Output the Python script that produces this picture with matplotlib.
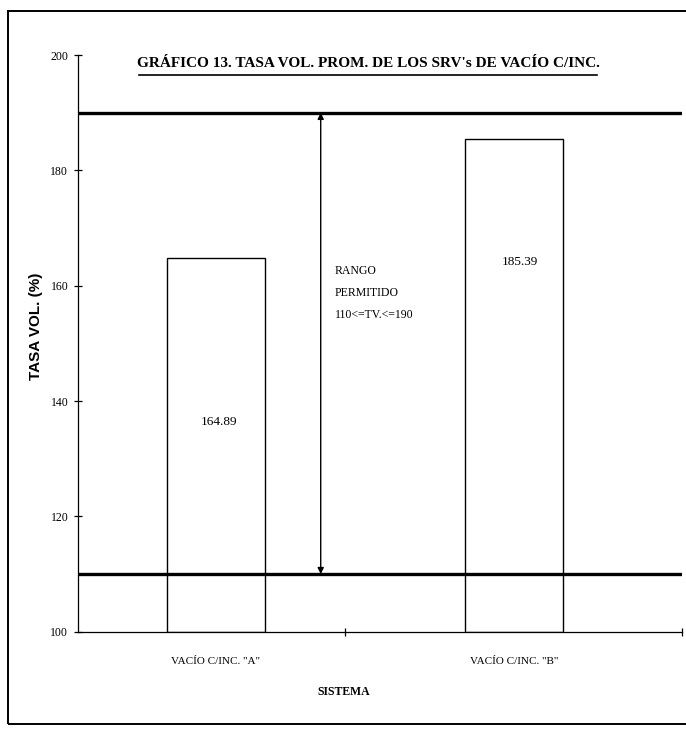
import matplotlib.pyplot as plt
from matplotlib.lines import Line2D
from matplotlib.patches import Rectangle

sistemas = ['VACÍO C/INC. "A"', 'VACÍO C/INC. "B"']
tasa_vol = [164.89, 185.39]
rango_min = 110
rango_max = 190
y_ticks = [100, 120, 140, 160, 180, 200]

plt.rcParams['font.family'] = ['Liberation Serif', 'DejaVu Serif']

fig = plt.figure(figsize=(6.86, 7.45), dpi=100)
ax = fig.add_axes([0.1137, 0.152, 0.880, 0.774])

x = [0, 1]
ax.bar(x, [v - 100 for v in tasa_vol], bottom=100, width=0.33,
       color='white', edgecolor='black', linewidth=1.0, zorder=2)

# permitted range limits
ax.axhline(rango_max, color='black', linewidth=2.4, zorder=3)
ax.axhline(rango_min, color='black', linewidth=2.4, zorder=3)
ax.annotate('', xy=(0.352, rango_min), xytext=(0.352, rango_max),
            arrowprops=dict(arrowstyle='<|-|>', color='black', lw=1.0,
                            mutation_scale=9, shrinkA=0, shrinkB=0))
ax.text(0.40, 158.7, 'RANGO\nPERMITIDO\n110<=TV.<=190', fontsize=8.5,
        ha='left', va='center', linespacing=2.1)

# values written inside the bars
ax.text(0.01, 136.4, f'{tasa_vol[0]:.2f}', fontsize=9.5, ha='center', va='center')
ax.text(1.02, 164.1, f'{tasa_vol[1]:.2f}', fontsize=9.5, ha='center', va='center')

ax.set_xlim(-0.463, 1.564)
ax.set_ylim(100, 200)
ax.set_yticks(y_ticks)
ax.set_yticklabels([str(t) for t in y_ticks], fontsize=8.5)
ax.set_xticks([0.433, 1.564])
ax.set_xticklabels([])
ax.tick_params(axis='both', direction='inout', length=6, width=0.9, pad=4)
for i, s in enumerate(sistemas):
    ax.text(x[i], 94.8, s, fontsize=8, ha='center', va='center')
ax.text(0.43, 89.6, 'SISTEMA', fontsize=8.5, fontweight='bold',
        ha='center', va='center')
ax.set_ylabel('TASA VOL. (%)', fontsize=11, fontweight='bold',
              family=['Liberation Sans', 'DejaVu Sans'])
ax.yaxis.set_label_coords(-0.058, 0.53)

for side in ['top', 'right']:
    ax.spines[side].set_visible(False)
for side in ['left', 'bottom']:
    ax.spines[side].set_linewidth(0.9)

fig.text(0.537, 0.915, "GRÁFICO 13. TASA VOL. PROM. DE LOS SRV's DE VACÍO C/INC.",
         fontsize=11, fontweight='bold', ha='center', va='center')
fig.add_artist(Line2D([0.203, 0.870], [0.9, 0.9], color='black', linewidth=1.2))

# outer frame
fig.add_artist(Rectangle((0.012, 0.028), 0.99, 0.957, transform=fig.transFigure,
                         fill=False, edgecolor='black', linewidth=1.4))

fig.savefig('out.png', dpi=100)
